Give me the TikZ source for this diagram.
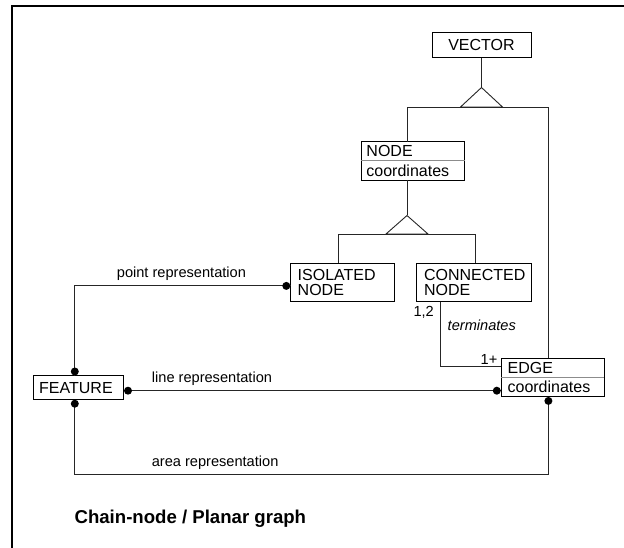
\documentclass[tikz,border=0pt]{standalone}
\usepackage{fontspec}
\setmainfont{Liberation Sans}
\begin{document}
\begin{tikzpicture}[x=1pt,y=-1pt,
  box/.style={draw=black, line width=0.9pt, inner sep=0pt, outer sep=0pt, rectangle},
  conn/.style={draw=black!85, line width=0.9pt},
  gen/.style={draw=black!85, line width=0.9pt, fill=white},
  divider/.style={draw=black!45, line width=0.9pt},
  dot/.style={circle, fill=black, inner sep=0pt, minimum size=8pt},
  lbl/.style={font=\fontsize{14.6}{15}\selectfont, inner sep=0pt},
  btxt/.style={font=\fontsize{16}{15}\selectfont, inner sep=0pt, anchor=west, align=left}]

\useasboundingbox (0,0) rectangle (624,548);
\draw[line width=2pt] (12.3,548) -- (12.3,5.8) -- (624,5.8);

% boxes
\node[box, minimum width=99pt, minimum height=25.5pt, font=\fontsize{16}{15}\selectfont] (vector) at (481.5,45) {VECTOR};
\node[box, minimum width=103.5pt, minimum height=38.4pt] (nodebox) at (413,160.8) {};
\node[box, minimum width=104pt, minimum height=38.4pt] (iso) at (342.5,282.4) {};
\node[box, minimum width=115pt, minimum height=38.4pt] (connb) at (473.7,282.4) {};
\node[box, minimum width=103pt, minimum height=38.4pt] (edge) at (552.5,377.5) {};
\node[box, minimum width=90.4pt, minimum height=23.8pt] (feature) at (78.6,387.6) {};

\draw[divider] (nodebox.west) -- (nodebox.east);
\draw[divider] (edge.west) -- (edge.east);

% box texts
\node[btxt] at ([xshift=5pt,yshift=9.6pt]nodebox.west) {NODE};
\node[btxt] at ([xshift=5pt,yshift=-9.6pt]nodebox.west) {coordinates};
\node[btxt] at ([xshift=6.4pt,yshift=9.6pt]edge.west) {EDGE};
\node[btxt] at ([xshift=6.4pt,yshift=-9.6pt]edge.west) {coordinates};
\node[btxt] at ([xshift=7pt]iso.west) {ISOLATED\\NODE};
\node[btxt] at ([xshift=7.6pt]connb.west) {CONNECTED\\NODE};
\node[btxt] at ([xshift=5.6pt]feature.west) {FEATURE};

% generalization VECTOR
\coordinate (gv) at (481.5,87.5);
\coordinate (gvL) at (407,107);
\coordinate (gvR) at (548.4,107);
\draw[conn] (vector.south) -- (gv);
\draw[conn] (nodebox.north -| gvL) -- (gvL) -- (gvR) -- (edge.north -| gvR);
\draw[gen] (gv) -- (460.5,107) -- (502.5,107) -- cycle;

% generalization NODE
\coordinate (gn) at (407,215.5);
\coordinate (gnL) at (338.2,234);
\coordinate (gnR) at (475.1,234);
\draw[conn] (nodebox.south -| gn) -- (gn);
\draw[conn] (iso.north -| gnL) -- (gnL) -- (gnR) -- (connb.north -| gnR);
\draw[gen] (gn) -- (386,234) -- (428,234) -- cycle;

% terminates
\coordinate (tm) at (440,366.7);
\draw[conn] (connb.south -| tm) -- (tm) -- (edge.west |- tm);

% point representation
\coordinate (pr) at (74.8,285.9);
\draw[conn] (feature.north -| pr) -- (pr) -- (iso.west |- pr);
\node[dot, anchor=south] at (feature.north -| pr) {};
\node[dot, anchor=east] at (iso.west |- pr) {};

% line representation
\coordinate (lr) at (300,390.7);
\draw[conn] (feature.east |- lr) -- (edge.west |- lr);
\node[dot, anchor=west] at (feature.east |- lr) {};
\node[dot, anchor=east] at (edge.west |- lr) {};

% area representation
\coordinate (ar) at (74.8,474.7);
\coordinate (ar2) at (548.4,474.7);
\draw[conn] (feature.south -| ar) -- (ar) -- (ar2) -- (edge.south -| ar2);
\node[dot, anchor=north] at (feature.south -| ar) {};
\node[dot, anchor=north] at (edge.south -| ar2) {};

% labels
\node[lbl, anchor=west] at (116.7,274) {point representation};
\node[lbl, anchor=west] at (151.7,378.5) {line representation};
\node[lbl, anchor=west] at (151.6,462.4) {area representation};
\node[lbl] at (423.7,312.7) {1,2};
\node[lbl, font=\fontsize{14.6}{15}\selectfont\itshape] at (481.8,325) {terminates};
\node[lbl] at (489,359.3) {1+};
\node[anchor=west, inner sep=0pt, font=\fontsize{18.6}{20}\selectfont\bfseries] at (74.4,519) {Chain-node / Planar graph};
\end{tikzpicture}
\end{document}
